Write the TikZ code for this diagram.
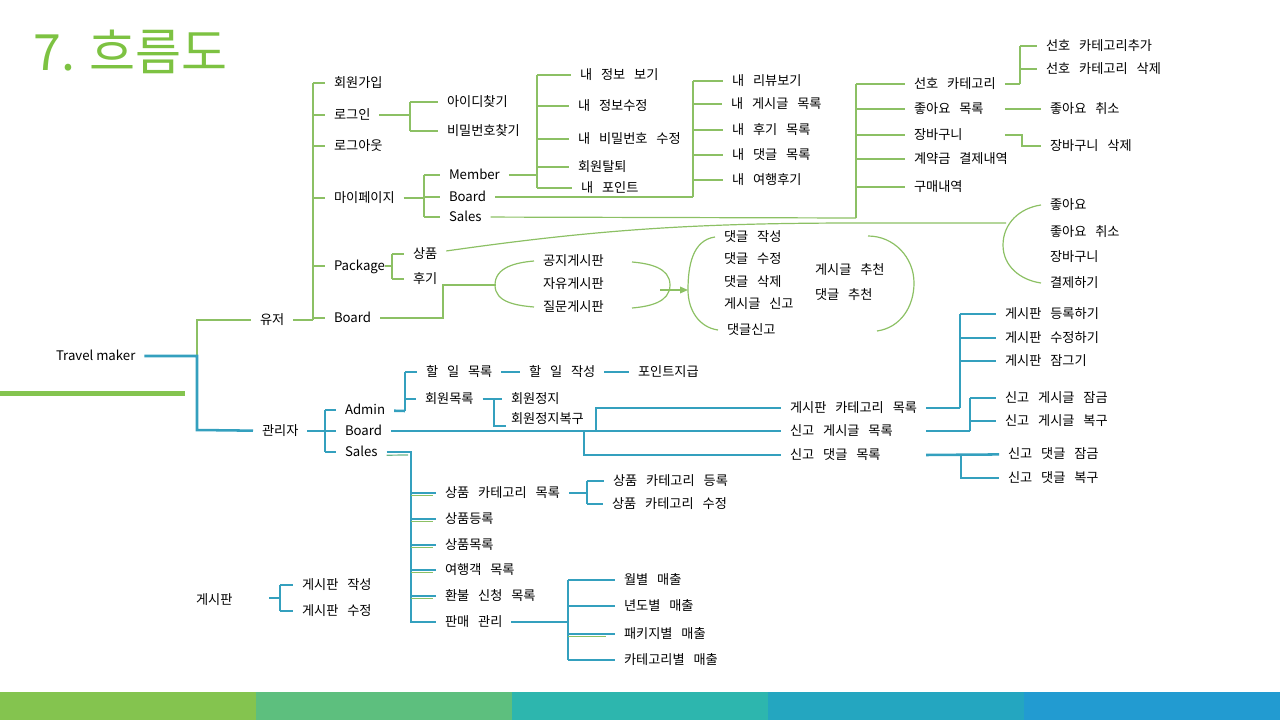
\documentclass[tikz,border=0pt]{standalone}
\usepackage{fontspec}
\setmainfont{Noto Sans CJK KR}[WordSpace=3]
\newfontfamily\titlefont{Noto Sans CJK KR}
\newfontfamily\lat{Noto Sans CJK KR}
\usetikzlibrary{arrows.meta}
\definecolor{gl}{RGB}{140,192,100}
\definecolor{bl}{RGB}{52,160,190}
\definecolor{titlegreen}{RGB}{125,194,66}
\definecolor{barA}{RGB}{132,196,79}
\definecolor{barB}{RGB}{93,191,126}
\definecolor{barC}{RGB}{45,182,174}
\definecolor{barD}{RGB}{36,166,192}
\definecolor{barE}{RGB}{34,155,209}
\begin{document}
\begin{tikzpicture}[x=0.75pt,y=-0.75pt,
  t/.style={anchor=west,inner sep=0pt,outer xsep=6.75pt,outer ysep=0pt,
    font=\fontsize{9.9}{11}\selectfont,text height=8pt,text depth=0.6pt},
  g/.style={draw=gl,line width=0.9pt},
  gt/.style={draw=gl,line width=1.7pt},
  b/.style={draw=bl,line width=1.9pt},
]
\useasboundingbox (0,0) rectangle (1280,720);
% title and decorations
\node[anchor=west,inner sep=0pt,font=\titlefont\fontsize{37.5}{42}\selectfont,text=titlegreen] (title) at (33,52) {7. 흐름도};
\fill[barA] (0,391) rectangle (185,396);
\fill[barA] (0,692) rectangle (256,720);
\fill[barB] (256,692) rectangle (512,720);
\fill[barC] (512,692) rectangle (768,720);
\fill[barD] (768,692) rectangle (1024,720);
\fill[barE] (1024,692) rectangle (1280,720);

% ---------------- nodes: user ----------------
\node[t] (tm) at (47,356) {\lat Travel maker};
\node[t] (user) at (251,320) {유저};
\node[t] (admin) at (253,431) {관리자};
\node[t] (reg) at (325,83) {회원가입};
\node[t] (login) at (325,115) {로그인};
\node[t] (logout) at (325,146) {로그아웃};
\node[t] (mypage) at (325,198) {마이페이지};
\node[t] (pkg) at (325,266) {\lat Package};
\node[t] (uboard) at (325,318) {\lat Board};
\node[t] (idf) at (438,102) {아이디찾기};
\node[t] (pwf) at (438,131) {비밀번호찾기};
\node[t] (mem) at (440,175) {\lat Member};
\node[t] (mbd) at (440,197) {\lat Board};
\node[t] (msl) at (440,217) {\lat Sales};
\node[t] (m1) at (571,75) {내 정보 보기};
\node[t] (m2) at (569,106) {내 정보수정};
\node[t] (m3) at (569,139) {내 비밀번호 수정};
\node[t] (m4) at (569,167) {회원탈퇴};
\node[t] (m5) at (572,188) {내 포인트};
\node[t] (b1) at (723,81) {내 리뷰보기};
\node[t] (b2) at (722,104) {내 게시글 목록};
\node[t] (b3) at (723,130) {내 후기 목록};
\node[t] (b4) at (723,155) {내 댓글 목록};
\node[t] (b5) at (723,180) {내 여행후기};
\node[t] (s1) at (905,84) {선호 카테고리};
\node[t] (s2) at (905,109) {좋아요 목록};
\node[t] (s3) at (905,135) {장바구니};
\node[t] (s4) at (905,159) {계약금 결제내역};
\node[t] (s5) at (905,187) {구매내역};
\node[t] (s11) at (1037,46) {선호 카테고리추가};
\node[t] (s12) at (1037,69) {선호 카테고리 삭제};
\node[t] (s21) at (1041,109) {좋아요 취소};
\node[t] (s31) at (1041,146) {장바구니 삭제};
\node[t] (pg) at (404,254) {상품};
\node[t] (pr) at (404,279) {후기};
\node[t] (l1) at (1041,205) {좋아요};
\node[t] (l2) at (1041,232) {좋아요 취소};
\node[t] (l3) at (1041,257) {장바구니};
\node[t] (l4) at (1041,283) {결제하기};
\node[t] (bd1) at (534,261) {공지게시판};
\node[t] (bd2) at (534,284) {자유게시판};
\node[t] (bd3) at (534,307) {질문게시판};
\node[t] (c1) at (715,237) {댓글 작성};
\node[t] (c2) at (715,259) {댓글 수정};
\node[t] (c3) at (715,282) {댓글 삭제};
\node[t] (c4) at (715,304) {게시글 신고};
\node[t] (c5) at (718,330) {댓글신고};
\node[t] (r1) at (806,270) {게시글 추천};
\node[t] (r2) at (806,295) {댓글 추천};
\coordinate (likej) at (1006,223);
\coordinate (barc) at (496,285);
\coordinate (carc) at (688,290);

% ---------------- nodes: admin ----------------
\node[t] (aa) at (336,410) {\lat Admin};
\node[t] (ab) at (336,431) {\lat Board};
\node[t] (as) at (336,452) {\lat Sales};
\node[t] (todo) at (417,372) {할 일 목록};
\node[t] (amem) at (416,399) {회원목록};
\node[t] (todow) at (520,372) {할 일 작성};
\node[t] (point) at (629,372) {포인트지급};
\node[t] (stop) at (502,399) {회원정지};
\node[t] (rest) at (502,419) {회원정지복구};
\node[t] (bcat) at (781,408) {게시판 카테고리 목록};
\node[t] (rpost) at (781,431) {신고 게시글 목록};
\node[t] (rcom) at (781,455) {신고 댓글 목록};
\node[t] (k1) at (996,314) {게시판 등록하기};
\node[t] (k2) at (996,338) {게시판 수정하기};
\node[t] (k3) at (996,361) {게시판 잠그기};
\node[t] (p1) at (996,398) {신고 게시글 잠금};
\node[t] (p2) at (996,421) {신고 게시글 복구};
\node[t] (q1) at (999,454) {신고 댓글 잠금};
\node[t] (q2) at (999,478) {신고 댓글 복구};
\node[t] (sa1) at (436,493) {상품 카테고리 목록};
\node[t] (sa2) at (436,519) {상품등록};
\node[t] (sa3) at (436,545) {상품목록};
\node[t] (sa4) at (436,570) {여행객 목록};
\node[t] (sa5) at (436,596) {환불 신청 목록};
\node[t] (sa6) at (436,622) {판매 관리};
\node[t] (pc1) at (604,481) {상품 카테고리 등록};
\node[t] (pc2) at (603,504) {상품 카테고리 수정};
\node[t] (sm1) at (615,580) {월별 매출};
\node[t] (sm2) at (615,606) {년도별 매출};
\node[t] (sm3) at (615,634) {패키지별 매출};
\node[t] (sm4) at (615,660) {카테고리별 매출};
\node[t] (lb) at (187,600) {게시판};
\node[t] (lb1) at (293,585) {게시판 작성};
\node[t] (lb2) at (293,611) {게시판 수정};
\coordinate (lbj) at (269,598);

% ---------------- connectors: root ----------------
\draw[g] (197,356) -- (197,320) -- (user);
\draw[b] (tm) -- (197,356) -- (197,430) -- (admin);

% ---------------- connectors: user ----------------
\draw[g] (user) -- (313,320);
\draw[g] (313,83) -- (313,320);
\foreach \n/\y in {reg/83,login/115,logout/146,mypage/198,pkg/266,uboard/318}
  \draw[g] (313,\y) -- (\n);
\draw[g] (login) -- (410,115);
\draw[g] (410,102) -- (410,131);
\draw[g] (410,102) -- (idf);
\draw[g] (410,131) -- (pwf);
\draw[g] (mypage) -- (424,198);
\draw[g] (424,175) -- (424,217);
\foreach \n/\y in {mem/175,mbd/197,msl/217}
  \draw[g] (424,\y) -- (\n);
\draw[gt] (mem) -- (537,175);
\draw[g] (537,75) -- (537,188);
\foreach \n/\y in {m1/75,m2/106,m3/139,m4/167,m5/188}
  \draw[g] (537,\y) -- (\n);
\draw[g] (mbd) -- (693,197);
\draw[g] (693,81) -- (693,197);
\foreach \n/\y in {b1/81,b2/104,b3/130,b4/155,b5/180}
  \draw[g] (693,\y) -- (\n);
\draw[g] (msl) -- (856,218);
\draw[g] (856,84) -- (856,218);
\foreach \n/\y in {s1/84,s2/109,s3/135,s4/159,s5/187}
  \draw[g] (856,\y) -- (\n);
\draw[g] (s1) -- (1020,84);
\draw[g] (1020,46) -- (1020,84);
\draw[g] (1020,46) -- (s11);
\draw[g] (1020,69) -- (s12);
\draw[g] (s1.east |- s2) -- (s21);
\draw[g] (s1.east |- s3) -- (1022,135) |- (s31);
% package
\draw[g] ([xshift=-6.75pt]pkg.east) -- (392,266);
\draw[g] (392,254) -- (392,279);
\draw[g] (392,254) -- (pg);
\draw[g] (392,279) -- (pr);
\draw[g] (pg) .. controls (600,229) and (700,223) .. (860,223) -- (likej);
\draw[g] (l1.west) to[out=188,in=90] (1003,245) to[out=-90,in=172] (l4.west);
% board
\draw[g] (uboard) -- (443,318) -- (443,285) -- (barc);
\draw[g] (bd1.west) to[out=185,in=90] (495,285) to[out=-90,in=175] (bd3.west);
\draw[g] (632,262) to[out=-5,in=90] (670,285) to[out=-90,in=5] (632,308);
\draw[g,-{Triangle[length=6pt,width=5pt]}] (660,290) -- (carc);
\draw[g] (c1.west) to[out=188,in=90] (carc) to[out=-90,in=172] (c5.west);
\draw[g] (868,236) to[out=0,in=90] (914,283) to[out=-90,in=8] (877,331);

% ---------------- connectors: admin ----------------
\draw[b] (admin) -- (325,431);
\draw[b] (325,410) -- (325,452);
\foreach \n/\y in {aa/410,ab/431,as/452}
  \draw[b] (325,\y) -- (\n);
\draw[b] (aa) -- (405,411);
\draw[b] (405,372) -- (405,411);
\draw[b] (405,372) -- (todo);
\draw[b] (405,399) -- (amem);
\draw[b] (todo) -- (todow);
\draw[b] (todow) -- (point);
\draw[b] (amem) -- (494,399);
\draw[b] (494,399) -- (stop);
\draw[b] (494,399) -- (494,426) -- (506,426);
% admin board
\draw[b] (ab) -- (rpost);
\draw[b] (596,431) -- (596,408) -- (bcat);
\draw[b] (584,431) -- (584,455) -- (rcom);
\draw[b] (bcat) -- (960,408);
\draw[b] (960,314) -- (960,408);
\foreach \n/\y in {k1/314,k2/338,k3/361}
  \draw[b] (960,\y) -- (\n);
\draw[b] (bcat.east |- rpost) -- (970,431);
\draw[b] (970,398) -- (970,431);
\draw[b] (970,398) -- (p1);
\draw[b] (970,421) -- (p2);
\draw[b] (bcat.east |- rcom) -- (q1);
\draw[b] (961,455) -- (961,478) -- (q2);
% admin sales
\draw[draw=gl!60!bl,line width=0.9pt] ([yshift=-2.4pt]as.east) -- (408,455);
\draw[b] (as) -- (411,452) -- (411,622) -- (sa6);
\foreach \n/\y in {sa1/493,sa2/519,sa3/545,sa4/570,sa5/596}{
  \draw[draw=gl,line width=0.8pt] (411,\y+2.5) -- (433,\y+2.5);
  \draw[b] (411,\y) -- (\n);}
\draw[b] (sa1) -- (587,493);
\draw[b] (587,481) -- (587,504);
\draw[b] (587,481) -- (pc1);
\draw[b] (587,504) -- (pc2);
\draw[b] (sa6) -- (568,622);
\draw[b] (568,580) -- (568,660);
\draw[draw=gl,line width=0.8pt] (568,636.5) -- (606,636.5);
\foreach \n/\y in {sm1/580,sm2/606,sm3/634,sm4/660}
  \draw[b] (568,\y) -- (\n);
% left board
\draw[b] (lbj) -- (280,598);
\draw[b] (280,585) -- (280,611);
\draw[b] (280,585) -- (lb1);
\draw[b] (280,611) -- (lb2);
\end{tikzpicture}
\end{document}
